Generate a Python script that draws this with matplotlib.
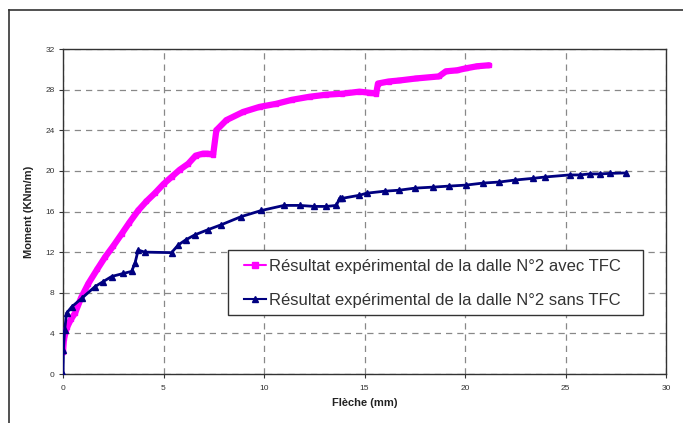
import matplotlib
matplotlib.use("Agg")
import matplotlib.pyplot as plt
from matplotlib.lines import Line2D
from matplotlib.patches import Rectangle

# Data (Flèche in mm, Moment in KNm/m)
avec_x = [0.0, 0.05, 0.2, 0.4, 0.6, 0.9, 1.26, 1.7, 2.09, 2.5, 2.92, 3.3, 3.74, 4.15,
          4.57, 5.0, 5.4, 5.8, 6.23, 6.6, 6.97, 7.2, 7.47, 7.63, 8.13, 8.96, 9.78, 10.6,
          11.4, 12.27, 13.1, 13.9, 14.75, 15.2, 15.58, 15.67, 16.2, 16.74, 17.57, 18.7,
          19.05, 19.6, 20.05, 20.6, 21.2]
avec_y = [2.2, 3.5, 4.6, 5.4, 6.0, 7.5, 8.9, 10.3, 11.5, 12.6, 13.8, 14.9, 16.1, 17.0,
          17.8, 18.7, 19.4, 20.1, 20.7, 21.5, 21.7, 21.7, 21.6, 24.0, 25.0, 25.8, 26.3, 26.6,
          27.0, 27.3, 27.5, 27.6, 27.8, 27.7, 27.6, 28.6, 28.8, 28.9, 29.1, 29.3,
          29.8, 29.9, 30.1, 30.3, 30.4]

sans_x = [0.0, 0.02, 0.08, 0.18, 0.43, 0.93, 1.59, 2.0, 2.42, 3.0, 3.41, 3.58, 3.74, 4.07,
          5.4, 5.73, 6.1, 6.56, 7.2, 7.88, 8.87, 9.87, 11.0, 11.77, 12.5, 13.1, 13.6, 13.76,
          13.9, 14.75, 15.1, 16.0, 16.74, 17.5, 18.4, 19.2, 20.05, 20.9, 21.7, 22.5,
          23.36, 24.0, 25.2, 25.7, 26.2, 26.7, 27.2, 28.0]
sans_y = [0.0, 2.4, 4.3, 6.0, 6.6, 7.45, 8.6, 9.1, 9.6, 9.9, 10.1, 10.9, 12.2, 12.0,
          11.95, 12.7, 13.2, 13.7, 14.2, 14.7, 15.5, 16.1, 16.6, 16.6, 16.5, 16.5, 16.6, 17.3,
          17.3, 17.6, 17.8, 18.0, 18.1, 18.3, 18.4, 18.5, 18.6, 18.8, 18.9, 19.1,
          19.26, 19.4, 19.6, 19.6, 19.7, 19.7, 19.75, 19.8]

label_avec = "Résultat expérimental de la dalle N°2 avec TFC"
label_sans = "Résultat expérimental de la dalle N°2 sans TFC"
x_ticks = [0, 5, 10, 15, 20, 25, 30]
y_ticks = [0, 4, 8, 12, 16, 20, 24, 28, 32]

plt.rcParams['font.family'] = ['Liberation Sans', 'DejaVu Sans']

W, H = 683, 423
fig = plt.figure(figsize=(W / 100, H / 100), dpi=100)
fig.patch.set_facecolor('white')

# outer frame (top and left edges visible)
fig.add_artist(Line2D([9 / W, 9 / W], [0, 1 - 10 / H], transform=fig.transFigure,
                      color='#333333', lw=1.2))
fig.add_artist(Line2D([9 / W, 1], [1 - 10 / H, 1 - 10 / H], transform=fig.transFigure,
                      color='#333333', lw=1.2))

l, r, t, b = 63, 666, 49, 374
ax = fig.add_axes([l / W, 1 - b / H, (r - l) / W, (b - t) / H])

ax.plot(avec_x, avec_y, color='#ff00ff', lw=4.5, marker='s', ms=3.5,
        solid_capstyle='round', label=label_avec, zorder=3)
ax.plot(sans_x, sans_y, color='#000080', lw=2.0, marker='^', ms=4,
        label=label_sans, zorder=4)

ax.set_xlim(0, 30)
ax.set_ylim(0, 32)
ax.set_xticks(x_ticks)
ax.set_yticks(y_ticks)
ax.grid(True, color='#888888', linestyle=(0, (5, 4)), lw=0.9)
ax.set_axisbelow(True)
for s in ax.spines.values():
    s.set_color('#333333')
    s.set_linewidth(1.0)
ax.tick_params(axis='both', labelsize=6, colors='#333333', length=3)
ax.tick_params(axis='x', pad=5)
ax.tick_params(axis='y', pad=3)

ax.set_xlabel("Flèche (mm)", fontsize=8, fontweight='bold', color='#222222', labelpad=4)
ax.set_ylabel("Moment (KNm/m)", fontsize=8, fontweight='bold', color='#222222', labelpad=8)


def ax_x(px):
    return (px - l) / (r - l)


def ax_y(py):
    return (b - py) / (b - t)


# legend frame drawn as a rectangle
bx0, by0, bx1, by1 = 228, 250, 643, 315
ax.add_patch(Rectangle((ax_x(bx0), ax_y(by1)), ax_x(bx1) - ax_x(bx0), ax_y(by0) - ax_y(by1),
                       transform=ax.transAxes, facecolor='white', edgecolor='#333333',
                       lw=1.0, zorder=5))

leg = ax.legend(loc='upper left', bbox_to_anchor=(ax_x(244), ax_y(259)),
                fontsize=12, frameon=False,
                handlelength=1.3, handletextpad=0.2, borderpad=0, labelspacing=1.15,
                borderaxespad=0)
leg.set_zorder(6)
for txt in leg.get_texts():
    txt.set_color('#333333')
for h in leg.legend_handles:
    h.set_linewidth(1.5)
    h.set_markersize(4)

fig.savefig("out.png", dpi=100)
